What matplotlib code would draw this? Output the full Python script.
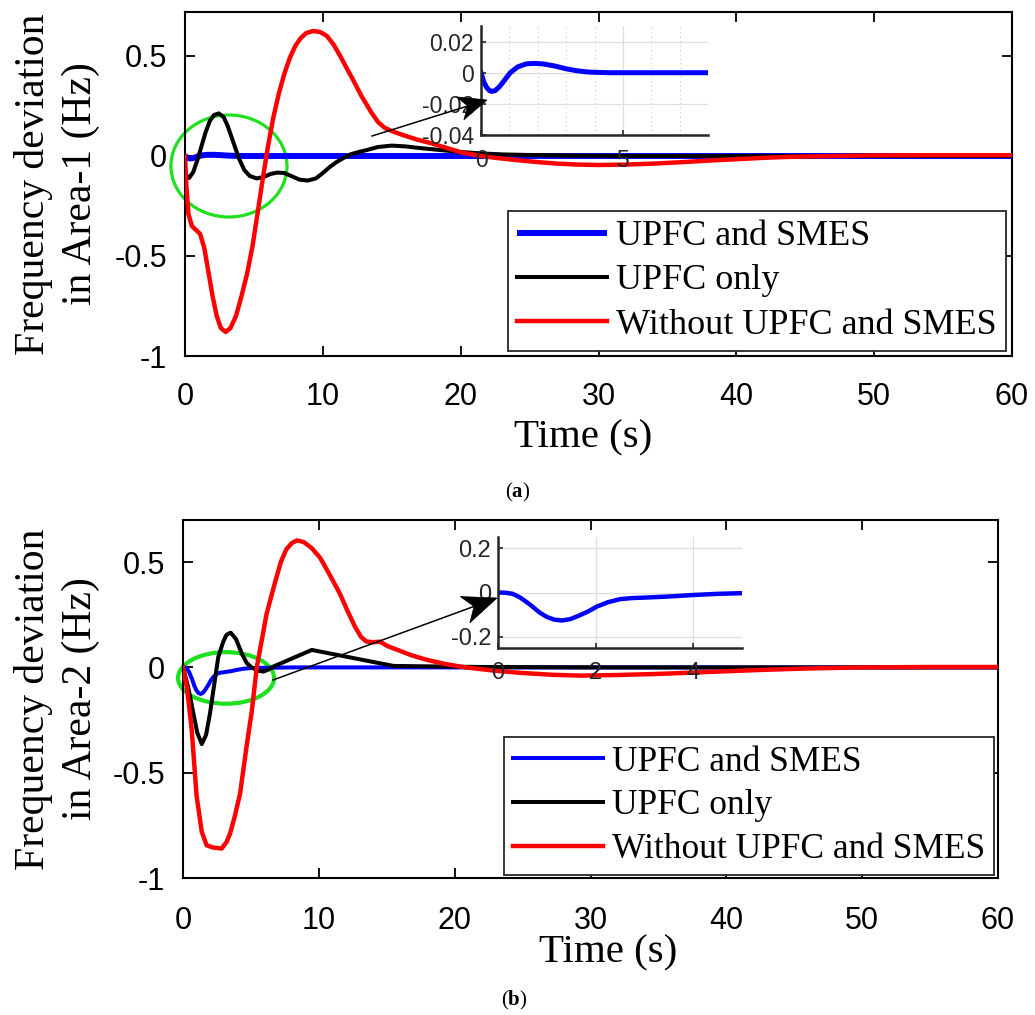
import math
import matplotlib
matplotlib.use('Agg')
import matplotlib.pyplot as plt
from matplotlib.patches import Ellipse, Polygon
from matplotlib.lines import Line2D

plt.rcParams['font.family'] = ['Liberation Sans', 'DejaVu Sans']
plt.rcParams['axes.unicode_minus'] = False
plt.rcParams['mathtext.fontset'] = 'custom'
plt.rcParams['mathtext.rm'] = 'Liberation Serif'
plt.rcParams['mathtext.bf'] = 'Liberation Serif:bold'

# ---------------- data ----------------
series_labels = ['UPFC and SMES', 'UPFC only', 'Without UPFC and SMES']
x_ticks = [0, 10, 20, 30, 40, 50, 60]
x_tick_labels = ['0', '10', '20', '30', '40', '50', '60']
y_ticks = [-1, -0.5, 0, 0.5]
y_tick_labels = ['-1', '-0.5', '0', '0.5']

# Area-1
a1_blue_t = [0, 0.1, 0.2, 0.3, 0.38, 0.5, 0.65, 0.8, 1.03, 1.3, 1.6, 1.9, 2.2, 2.6, 3.0,
             3.4, 3.8, 4.5, 8, 60]
a1_blue_v = [0, -0.006, -0.0095, -0.0115, -0.012, -0.0115, -0.009, -0.0055, 0.0, 0.0038,
             0.0057, 0.006, 0.0056, 0.0043, 0.0025, 0.0012, 0.0004, 0.0, 0.0, 0.0]
a1_black_t = [0, 0.3, 0.6, 0.9, 1.2, 1.5, 1.8, 2.1, 2.45, 2.8, 3.1, 3.5, 3.9, 4.3, 4.7, 5.2,
              5.7, 6.2, 6.7, 7.2, 7.7, 8.3, 8.9, 9.5, 10.0, 10.5, 11.0, 11.5, 12.0, 12.6,
              13.2, 14.0, 15.0, 16.0, 17.0, 18.5, 20, 21.5, 23, 25, 28, 32, 60]
a1_black_v = [-0.09, -0.11, -0.08, -0.02, 0.05, 0.12, 0.175, 0.205, 0.213, 0.195, 0.15, 0.07,
              -0.01, -0.07, -0.10, -0.112, -0.105, -0.09, -0.083, -0.085, -0.10, -0.118,
              -0.123, -0.112, -0.085, -0.055, -0.03, -0.01, 0.008, 0.02, 0.03, 0.045, 0.052,
              0.048, 0.04, 0.03, 0.02, 0.013, 0.008, 0.005, 0.002, 0.0, 0.0]
a1_red_t = [0, 0.1, 0.25, 0.5, 0.8, 1.1, 1.4, 1.7, 2.0, 2.3, 2.6, 2.95, 3.3, 3.7, 4.1, 4.5,
            4.9, 5.3, 5.65, 6.0, 6.4, 6.8, 7.2, 7.6, 8.0, 8.4, 8.8, 9.3, 9.8, 10.3, 10.8,
            11.3, 11.8, 12.2, 12.8, 13.5, 14.0, 14.5, 15.0, 15.8, 16.8, 17.9, 19.0, 20.1,
            21.5, 22.5, 24, 25.5, 27, 28.5, 30, 32, 34, 36, 38, 40, 42, 44, 47, 50, 54, 60]
a1_red_v = [0.0, -0.15, -0.29, -0.35, -0.37, -0.39, -0.46, -0.58, -0.70, -0.80, -0.86, -0.88,
            -0.86, -0.80, -0.70, -0.59, -0.45, -0.27, -0.11, 0.04, 0.19, 0.31, 0.41, 0.49,
            0.55, 0.59, 0.615, 0.625, 0.62, 0.60, 0.555, 0.495, 0.43, 0.38, 0.30, 0.22,
            0.17, 0.14, 0.125, 0.105, 0.083, 0.063, 0.04, 0.017, 0.0, -0.009, -0.02, -0.03,
            -0.038, -0.043, -0.045, -0.043, -0.038, -0.031, -0.023, -0.016, -0.009, -0.004,
            0.0, 0.003, 0.004, 0.004]

# Area-2
a2_blue_t = [0, 0.15, 0.3, 0.45, 0.66, 0.85, 1.0, 1.15, 1.31, 1.48, 1.65, 1.85, 2.03, 2.25,
             2.5, 2.75, 3.0, 3.5, 4.03, 4.5, 5.0, 6.0, 8.0, 60]
a2_blue_v = [0, -0.001, -0.006, -0.022, -0.055, -0.09, -0.11, -0.122, -0.126, -0.12, -0.105,
             -0.085, -0.063, -0.044, -0.03, -0.025, -0.023, -0.018, -0.011, -0.006, -0.003,
             -0.002, 0.0, 0.0]
a2_black_t = [0, 0.4, 0.76, 1.05, 1.38, 1.7, 1.99, 2.3, 2.6, 2.95, 3.2, 3.51, 3.9, 4.32, 4.7,
              5.06, 5.5, 5.91, 6.3, 6.65, 9.48, 15.5, 22, 30, 60]
a2_black_v = [0, -0.1, -0.217, -0.31, -0.364, -0.32, -0.217, -0.08, 0.05, 0.12, 0.155, 0.165,
              0.135, 0.067, 0.02, 0.0, -0.015, -0.02, -0.01, 0.004, 0.083, 0.007, 0.002, 0.0, 0.0]
a2_red_t = [0, 0.3, 0.64, 1.0, 1.38, 1.74, 2.2, 2.85, 3.2, 3.46, 3.8, 4.2, 4.69, 5.06, 5.43,
            6.16, 6.76, 7.2, 7.6, 8.0, 8.4, 8.9, 9.5, 10.1, 10.8, 11.55, 12.1, 12.65, 13.1,
            13.5, 14.0, 14.5, 15.1, 15.8, 16.8, 18.0, 19.4, 20.8, 23, 25.1, 27.2, 29.3, 32,
            34.9, 38.5, 42.5, 46, 50, 55, 60]
a2_red_v = [0, -0.1, -0.295, -0.61, -0.78, -0.845, -0.855, -0.86, -0.83, -0.79, -0.71, -0.6,
            -0.37, -0.21, 0.0, 0.256, 0.40, 0.50, 0.56, 0.59, 0.603, 0.595, 0.565, 0.52, 0.44,
            0.35, 0.27, 0.195, 0.145, 0.123, 0.12, 0.122, 0.1, 0.083, 0.058, 0.035, 0.015,
            0.0, -0.016, -0.027, -0.035, -0.039, -0.036, -0.031, -0.022, -0.012, -0.005, 0.0,
            0.002, 0.002]

# ---------------- layout helpers ----------------
W, H = 1035, 1015
fig = plt.figure(figsize=(W / 100, H / 100), dpi=100)
SERIF = ['Liberation Serif', 'DejaVu Serif']
INK = '#262626'
GREEN = '#1fe01f'


def fx(px):
    return px / W


def fy(py):
    return 1 - py / H


def rect(x0, y0, x1, y1):
    return [x0 / W, 1 - y1 / H, (x1 - x0) / W, (y1 - y0) / H]


def main_axes(box, ylim, xpad):
    ax = fig.add_axes(rect(*box))
    ax.set_xlim(0, 60)
    ax.set_ylim(*ylim)
    ax.set_xticks(x_ticks)
    ax.set_xticklabels(x_tick_labels)
    ax.set_yticks(y_ticks)
    ax.set_yticklabels(y_tick_labels)
    ax.tick_params(direction='in', length=7, width=1.3, top=True, right=True,
                   labelsize=22, colors='k')
    ax.tick_params(axis='x', pad=xpad)
    ax.tick_params(axis='y', pad=13)
    for s in ax.spines.values():
        s.set_linewidth(1.5)
        s.set_color('k')
    return ax


def inset_axes(box, xlim, ylim, xt, yt, ytl, minor_x=None):
    ax = fig.add_axes(rect(*box), zorder=5)
    ax.set_facecolor('none')
    ax.set_xlim(*xlim)
    ax.set_ylim(*ylim)
    ax.set_xticks(xt)
    ax.set_xticklabels([str(v) for v in xt])
    ax.set_yticks(yt)
    ax.set_yticklabels(ytl)
    ax.spines['top'].set_visible(False)
    ax.spines['right'].set_visible(False)
    for s in ('left', 'bottom'):
        ax.spines[s].set_linewidth(1.8)
        ax.spines[s].set_color(INK)
    ax.tick_params(direction='in', length=3.5, width=1.2, colors=INK, labelsize=16.5)
    ax.tick_params(axis='x', pad=10)
    ax.tick_params(axis='y', pad=5)
    ax.grid(True, which='major', color='#dedede', lw=0.9)
    if minor_x is not None:
        ax.set_xticks(minor_x, minor=True)
        ax.tick_params(which='minor', length=0)
        ax.grid(True, which='minor', axis='x', color='#c8c8c8', lw=0.8, ls=(0, (1, 3)))
    ax.set_axisbelow(True)
    return ax


def add_legend(ax, handles, anchor, fs, hl):
    leg = ax.legend(handles, series_labels, loc='upper right',
                    bbox_to_anchor=(anchor[0] / W, 1 - anchor[1] / H),
                    bbox_transform=fig.transFigure, prop={'family': SERIF, 'size': fs},
                    frameon=True, fancybox=False, edgecolor=INK, framealpha=1,
                    borderpad=0.25, labelspacing=0.3, handlelength=hl,
                    handletextpad=0.25, borderaxespad=0)
    leg.get_frame().set_linewidth(1.3)
    leg.set_zorder(6)
    return leg


def matlab_arrow(start, tip, head_len, half_w):
    """Annotation arrow with a notched (vback) head, given in image pixels."""
    dx, dy = tip[0] - start[0], tip[1] - start[1]
    n = math.hypot(dx, dy)
    ux, uy = dx / n, dy / n
    px, py = -uy, ux
    bx, by = tip[0] - head_len * ux, tip[1] - head_len * uy
    nx, ny = tip[0] - 0.72 * head_len * ux, tip[1] - 0.72 * head_len * uy
    pts = [tip, (bx + half_w * px, by + half_w * py), (nx, ny),
           (bx - half_w * px, by - half_w * py)]
    fig.add_artist(Line2D([fx(start[0]), fx(nx)], [fy(start[1]), fy(ny)],
                          transform=fig.transFigure, color='k', lw=1.1, zorder=10))
    fig.add_artist(Polygon([(fx(a), fy(b)) for a, b in pts], closed=True,
                           transform=fig.transFigure, fc='k', ec='k', lw=0.5, zorder=10))


# ================= (a) Area-1 =================
ax1 = main_axes((185, 12, 1012, 356), (-1, 0.72), 18.5)
h1b, = ax1.plot(a1_blue_t, a1_blue_v, color='b', lw=4.3, zorder=3, solid_capstyle='butt')
h1k, = ax1.plot(a1_black_t, a1_black_v, color='k', lw=2.9, zorder=3)
h1r, = ax1.plot(a1_red_t, a1_red_v, color='r', lw=3.2, zorder=3)
ax1.add_patch(Ellipse((3.19, -0.05), 8.42, 0.51, fill=False, ec=GREEN, lw=2.3,
                      clip_on=False, zorder=2))
add_legend(ax1, [h1b, h1k, h1r], (1006, 211), 26, 2.49)

in1 = inset_axes((481, 26, 708, 135), (0, 8), (-0.04, 0.03), [0, 5],
                 [-0.04, -0.02, 0, 0.02], ['-0.04', '-0.02', '0', '0.02'],
                 minor_x=list(range(0, 9)))
in1.plot(a1_blue_t, a1_blue_v, color='b', lw=3.6)
matlab_arrow((372, 136), (487, 100), 28, 12)

fig.text(fx(57), fy(184), 'Frequency deviation\nin Area-1 (Hz)', rotation=90,
         ha='center', va='center', family=SERIF, size=30, linespacing=1.3,
         multialignment='center')
fig.text(fx(583), fy(438), 'Time (s)', ha='center', va='center', family=SERIF, size=29.5)
fig.text(fx(518), fy(492), r'$(\mathbf{a})$', ha='center', va='center', size=15)

# ================= (b) Area-2 =================
ax2 = main_axes((183, 520, 998, 878), (-1, 0.7), 20)
h2b, = ax2.plot(a2_blue_t, a2_blue_v, color='b', lw=2.9, zorder=3)
h2k, = ax2.plot(a2_black_t, a2_black_v, color='k', lw=2.9, zorder=3)
h2r, = ax2.plot(a2_red_t, a2_red_v, color='r', lw=3.2, zorder=3)
ax2.add_patch(Ellipse((3.17, -0.05), 7.07, 0.245, fill=False, ec=GREEN, lw=3.0,
                      clip_on=False, zorder=2))
add_legend(ax2, [h2b, h2k, h2r], (994, 737), 25.5, 2.54)

in2 = inset_axes((498, 537, 742, 648), (0, 5), (-0.25, 0.25), [0, 2, 4],
                 [-0.2, 0, 0.2], ['-0.2', '0', '0.2'])
in2.tick_params(labelsize=17)
in2.plot(a2_blue_t, a2_blue_v, color='b', lw=3.2)
matlab_arrow((273, 680), (497, 598), 34, 14)

fig.text(fx(57), fy(699), 'Frequency deviation\nin Area-2 (Hz)', rotation=90,
         ha='center', va='center', family=SERIF, size=30, linespacing=1.3,
         multialignment='center')
fig.text(fx(608), fy(953), 'Time (s)', ha='center', va='center', family=SERIF, size=29.5)
fig.text(fx(514), fy(1000), r'$(\mathbf{b})$', ha='center', va='center', size=15)

fig.savefig('out.png', dpi=100, facecolor='white')
